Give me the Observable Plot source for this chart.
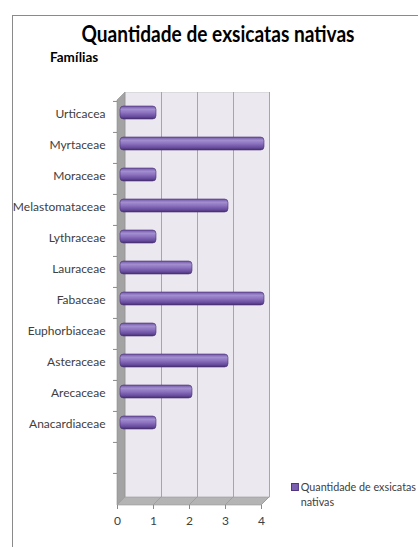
<!DOCTYPE html>
<html>
<head>
<meta charset="utf-8">
<script src="https://cdn.jsdelivr.net/npm/d3@7"></script>
<script src="https://cdn.jsdelivr.net/npm/@observablehq/plot@0.6"></script>
<style>
  html, body { margin: 0; padding: 0; background: #fff; overflow: hidden; }
  #wrap { position: relative; width: 418px; height: 547px; overflow: hidden;
          font-family: Lato, "Open Sans", sans-serif; }
  #border { position: absolute; left: 12px; top: 15px; width: 420px; height: 540px;
            border-left: 1.5px solid #8a8a8a; border-top: 1.5px solid #8a8a8a; }
  #title { position: absolute; left: 218px; top: 20px; white-space: nowrap;
           font-size: 22px; font-weight: bold; color: #000; transform-origin: 0 0; }
  #ylabel { position: absolute; left: 50px; top: 49px; font-size: 13.5px; font-weight: bold; color: #000;
            transform-origin: 0 0; }
  #legend { position: absolute; left: 291px; top: 479px; font-size: 11px; color: #404040; line-height: 15px;
            white-space: nowrap; }
  #legend .sw { display: inline-block; width: 6px; height: 6px; background: #7b5fb1;
                border: 1px solid #4f3680; margin-right: 2px; vertical-align: 0px; }
  #legend .l2 { padding-left: 10px; }
  #chart { position: absolute; left: 0; top: 0; }
</style>
</head>
<body>
<div id="wrap">
  <div id="border"></div>
  <div id="chart"></div>
  <div id="title"></div>
  <div id="ylabel"></div>
  <div id="legend"></div>
</div>
<script>
const titleText = "Quantidade de exsicatas nativas";
const yTitle = "Famílias";
const seriesName = ["Quantidade de exsicatas", "nativas"];

// categories top to bottom (as drawn)
const families = ["Urticacea", "Myrtaceae", "Moraceae", "Melastomataceae", "Lythraceae", "Lauraceae",
                  "Fabaceae", "Euphorbiaceae", "Asteraceae", "Arecaceae", "Anacardiaceae"];
const values = [1, 4, 1, 3, 1, 2, 4, 1, 3, 2, 1];
const blankRows = ["_blank1", "_blank2"];
const xTicks = [0, 1, 2, 3, 4];

const data = families.map((f, i) => ({family: f, value: values[i]}));
const yDomain = families.concat(blankRows);

const W = 418, H = 547;
const mL = 117, mR = 157, mT = 100, mB = 42;
const depth = 8;
const step = (H - mT - mB) / yDomain.length;

const wallMark = (index, scales, values, dims) => {
  const g = d3.create("svg:g");
  const x0 = scales.x(0), x4 = scales.x(4);
  const top = dims.marginTop, bot = dims.height - dims.marginBottom;
  g.append("path")
    .attr("d", `M${x0},${top}L${x0 + depth},${top - depth}L${x0 + depth},${bot - depth}L${x0},${bot}Z`)
    .attr("fill", "#a3a3a3").attr("stroke", "#8f8f8f").attr("stroke-width", 0.6);
  g.append("path")
    .attr("d", `M${x0},${bot}L${x0 + depth},${bot - depth}L${x4 + depth},${bot - depth}L${x4},${bot}Z`)
    .attr("fill", "#b4b4b4").attr("stroke", "#999").attr("stroke-width", 0.6);
  for (const t of xTicks.slice(1)) {
    g.append("line")
      .attr("x1", scales.x(t)).attr("y1", bot)
      .attr("x2", scales.x(t) + depth).attr("y2", bot - depth)
      .attr("stroke", "#999").attr("stroke-width", 0.8);
  }
  return g.node();
};

const plot = Plot.plot({
  width: W, height: H,
  marginLeft: mL, marginRight: mR, marginTop: mT, marginBottom: mB,
  style: {fontFamily: 'Lato, "Open Sans", sans-serif', fontSize: "12px", color: "#404040", background: "transparent"},
  x: {domain: [0, 4], ticks: xTicks},
  y: {domain: yDomain, paddingInner: 0.58, paddingOuter: 0.29, axis: null},
  marks: [
    Plot.frame({fill: "#ebe8f0", stroke: "#c8c8c8", strokeWidth: 0.6, dx: depth, dy: -depth}),
    Plot.gridX(xTicks.slice(1), {stroke: "#a6a6a6", strokeOpacity: 1, strokeWidth: 1, dx: depth, dy: -depth}),
    wallMark,
    Plot.axisX({ticks: xTicks, tickSize: 4, tickPadding: 7, tickFormat: d3.format("d"),
                stroke: "#8a8a8a", color: "#404040", fontSize: 12, label: null}),
    Plot.axisY({tickSize: 4, text: null, dy: -step / 2, stroke: "#8a8a8a", label: null}),
    Plot.axisY({tickSize: 0, tickPadding: 12, dy: -3, fontSize: 12, label: null, fill: "#404040",
                tickFormat: d => blankRows.includes(d) ? "" : d}),
    Plot.barX(data, {x: "value", y: "family", fill: "url(#barGrad)", dx: 3, dy: -4, rx: 3.5,
                     stroke: "#4a3176", strokeWidth: 0.6})
  ]
});

const svg = d3.select(plot);
const defs = svg.insert("defs", ":first-child");
const grad = defs.append("linearGradient").attr("id", "barGrad")
  .attr("x1", 0).attr("y1", 0).attr("x2", 0).attr("y2", 1);
[["0%", "#6d52a3"], ["25%", "#a38fd0"], ["50%", "#8d73c0"], ["80%", "#6a4ea0"], ["100%", "#47306f"]]
  .forEach(([o, c]) => grad.append("stop").attr("offset", o).attr("stop-color", c));

document.getElementById("chart").appendChild(plot);
const tEl = document.getElementById("title");
tEl.textContent = titleText;
const tw = tEl.getBoundingClientRect().width;
const targetW = 273;
tEl.style.transform = `translateX(${-targetW / 2}px) scaleX(${targetW / tw})`;
document.getElementById("ylabel").textContent = yTitle;
document.getElementById("legend").innerHTML =
  `<span class="sw"></span>${seriesName[0]}<br><span class="l2">${seriesName[1]}</span>`;
const lg = document.getElementById("legend");
const lw = lg.getBoundingClientRect().width;
if (lw > 125) lg.style.transform = `scaleX(${125 / lw})`, lg.style.transformOrigin = "0 0";
</script>
</body>
</html>
